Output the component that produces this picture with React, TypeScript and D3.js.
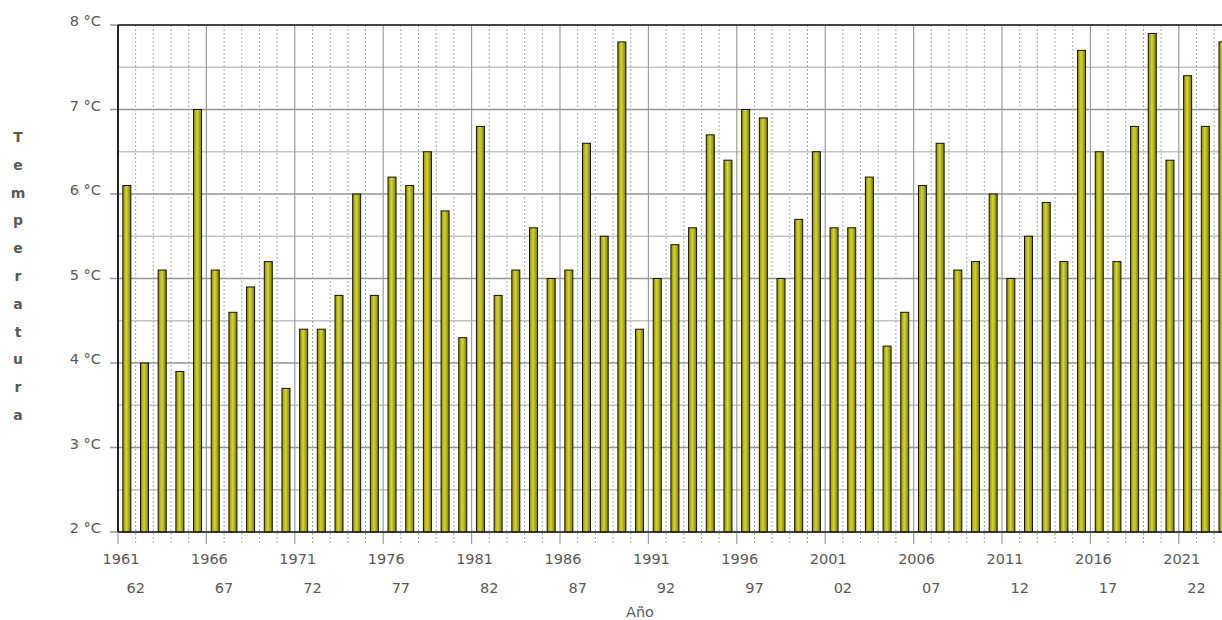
import React from 'react'
import * as d3 from 'd3'

// temperatura media anual por año (°C)
const years = d3.range(1961, 2024)
const temps = [
  6.1, 4.0, 5.1, 3.9, 7.0, 5.1, 4.6, 4.9, 5.2, 3.7,
  4.4, 4.4, 4.8, 6.0, 4.8, 6.2, 6.1, 6.5, 5.8, 4.3,
  6.8, 4.8, 5.1, 5.6, 5.0, 5.1, 6.6, 5.5, 7.8, 4.4,
  5.0, 5.4, 5.6, 6.7, 6.4, 7.0, 6.9, 5.0, 5.7, 6.5,
  5.6, 5.6, 6.2, 4.2, 4.6, 6.1, 6.6, 5.1, 5.2, 6.0,
  5.0, 5.5, 5.9, 5.2, 7.7, 6.5, 5.2, 6.8, 7.9, 6.4,
  7.4, 6.8, 7.8,
]
const yTicks = [2, 3, 4, 5, 6, 7, 8]
const yTitle = 'Temperatura'
const xTitle = 'Año'

export default function App() {
  const W = 1222
  const H = 620
  const left = 118
  const top = 25
  const bottom = 532
  const step = 17.68

  const x = d3.scaleLinear().domain([1961, 1962]).range([left, left + step])
  const y = d3.scaleLinear().domain([2, 8]).range([bottom, top])
  const barW = 8
  const gray = '#5a5a5a'
  const font = 'Verdana, "DejaVu Sans", sans-serif'

  const halfTicks = d3.range(2.5, 8, 1)
  const gridYears = d3.range(1961, 2025)

  return (
    <svg width={W} height={H} style={{ position: 'absolute', left: 0, top: 0 }}>
      <defs>
        <linearGradient id="bar" x1="0" x2="1" y1="0" y2="0">
          <stop offset="0" stopColor="#8c8c0c" />
          <stop offset="0.45" stopColor="#d6d62a" />
          <stop offset="1" stopColor="#7a7a08" />
        </linearGradient>
      </defs>
      <rect x={0} y={0} width={W} height={H} fill="#fff" />

      {/* rejilla horizontal */}
      {halfTicks.map(t => (
        <line key={'h' + t} x1={left} x2={W} y1={y(t)} y2={y(t)} stroke="#c4c4c4" strokeWidth={1.6} />
      ))}
      {yTicks.map(t => (
        <line key={'y' + t} x1={left - 8} x2={W} y1={y(t)} y2={y(t)} stroke="#959595" strokeWidth={1.3} />
      ))}

      {/* rejilla vertical */}
      {gridYears.map(yr => {
        const major = (yr - 1961) % 5 === 0
        return (
          <line
            key={'v' + yr}
            x1={x(yr)} x2={x(yr)} y1={top} y2={bottom + 12}
            stroke={major ? '#9c9c9c' : '#a8a8a8'}
            strokeWidth={major ? 1.2 : 1}
            strokeDasharray={major ? undefined : '2,2'}
          />
        )
      })}

      {/* barras */}
      {temps.map((v, i) => (
        <rect
          key={'b' + i}
          x={x(years[i]) + step / 2 - barW / 2}
          y={y(v)}
          width={barW}
          height={bottom - y(v)}
          fill="url(#bar)"
          stroke="#111"
          strokeWidth={1}
        />
      ))}

      {/* marco */}
      <line x1={left} x2={W} y1={top} y2={top} stroke="#222" strokeWidth={1.5} />
      <line x1={left} x2={W} y1={bottom} y2={bottom} stroke="#222" strokeWidth={1.5} />
      <line x1={left} x2={left} y1={top} y2={bottom} stroke="#222" strokeWidth={2} />

      {/* etiquetas eje y */}
      {yTicks.map(t => (
        <text key={'yl' + t} x={101} y={y(t)} dy="0.1em" textAnchor="end" fontSize={14.5} fontFamily={font} fill={gray}>
          {t} °C
        </text>
      ))}

      {/* etiquetas eje x */}
      {years.filter(yr => (yr - 1961) % 5 === 0).map(yr => (
        <text key={'xl' + yr} x={x(yr) + 3} y={564} textAnchor="middle" fontSize={14.5} fontFamily={font} fill={gray}>
          {yr}
        </text>
      ))}
      {years.filter(yr => (yr - 1962) % 5 === 0).map(yr => (
        <text key={'xs' + yr} x={x(yr)} y={593} textAnchor="middle" fontSize={14.5} fontFamily={font} fill={gray}>
          {String(yr).slice(2)}
        </text>
      ))}

      <text x={640} y={617} textAnchor="middle" fontSize={14.5} fontFamily={font} fill={gray}>
        {xTitle}
      </text>

      {yTitle.split('').map((c, i) => (
        <text key={'t' + i} x={18} y={137 + i * 27.8} dy="0.35em" textAnchor="middle" fontSize={14} fontWeight="bold" fontFamily={font} fill={gray}>
          {c}
        </text>
      ))}
    </svg>
  )
}
